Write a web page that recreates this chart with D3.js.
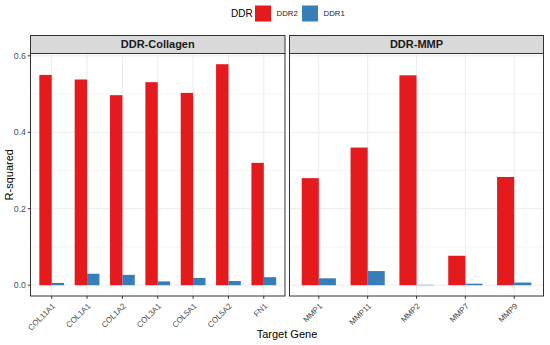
<!DOCTYPE html>
<html>
<head>
<meta charset="utf-8">
<script src="https://cdn.jsdelivr.net/npm/d3@7"></script>
<style>
  body { margin: 0; background: #fff; }
  text { font-family: "Liberation Sans", Arial, sans-serif; }
</style>
</head>
<body>
<div id="chart"></div>
<script>
// data
var collagenGenes = ["COL11A1", "COL1A1", "COL1A2", "COL3A1", "COL5A1", "COL5A2", "FN1"];
var collagenDDR2 = [0.550, 0.538, 0.497, 0.531, 0.503, 0.578, 0.320];
var collagenDDR1 = [0.006, 0.030, 0.027, 0.010, 0.019, 0.011, 0.021];

var mmpGenes = ["MMP1", "MMP11", "MMP2", "MMP7", "MMP9"];
var mmpDDR2 = [0.280, 0.360, 0.549, 0.077, 0.283];
var mmpDDR1 = [0.018, 0.037, 0.001, 0.004, 0.007];

var seriesNames = ["DDR2", "DDR1"];
var seriesColors = ["#E41A1C", "#377EB8"];
var yTicks = [0, 0.2, 0.4, 0.6];
var yMinor = [0.1, 0.3, 0.5];

var width = 550, height = 345;
var svg = d3.select("#chart").append("svg")
    .attr("width", width)
    .attr("height", height);

var panelTop = 53.5, panelBottom = 296, stripTop = 35.5;
var y = d3.scaleLinear().domain([0, 0.6]).range([285.2, 55.8]);

var panels = [
  { title: "DDR-Collagen", genes: collagenGenes, vals: [collagenDDR2, collagenDDR1], x0: 30.5, x1: 285 },
  { title: "DDR-MMP", genes: mmpGenes, vals: [mmpDDR2, mmpDDR1], x0: 289.5, x1: 543.5 }
];

var color = d3.scaleOrdinal().domain(seriesNames).range(seriesColors);

panels.forEach(function (p, pi) {
  var n = p.genes.length;
  // ggplot-like discrete expansion of 0.6 on each side
  var unit = (p.x1 - p.x0) / (n - 1 + 1.2);
  var x = d3.scalePoint().domain(p.genes)
      .range([p.x0 + 0.6 * unit, p.x1 - 0.6 * unit]);
  var sub = d3.scaleBand().domain(seriesNames).range([-0.35 * unit, 0.35 * unit]);

  var g = svg.append("g");

  // panel background + grid
  g.append("rect")
    .attr("x", p.x0).attr("y", panelTop)
    .attr("width", p.x1 - p.x0).attr("height", panelBottom - panelTop)
    .attr("fill", "#fff");

  g.selectAll(".minor").data(yMinor).enter().append("line")
    .attr("x1", p.x0).attr("x2", p.x1)
    .attr("y1", d => y(d)).attr("y2", d => y(d))
    .attr("stroke", "#EBEBEB").attr("stroke-width", 0.5);
  g.selectAll(".major").data(yTicks).enter().append("line")
    .attr("x1", p.x0).attr("x2", p.x1)
    .attr("y1", d => y(d)).attr("y2", d => y(d))
    .attr("stroke", "#EBEBEB").attr("stroke-width", 1);
  g.selectAll(".vgrid").data(p.genes).enter().append("line")
    .attr("x1", d => x(d)).attr("x2", d => x(d))
    .attr("y1", panelTop).attr("y2", panelBottom)
    .attr("stroke", "#EBEBEB").attr("stroke-width", 1);

  // bars
  seriesNames.forEach(function (s, si) {
    g.selectAll(".bar" + si).data(p.genes).enter().append("rect")
      .attr("x", d => x(d) + sub(s))
      .attr("width", sub.bandwidth())
      .attr("y", (d, i) => y(p.vals[si][i]))
      .attr("height", (d, i) => y(0) - y(p.vals[si][i]))
      .attr("fill", color(s));
  });

  // panel border
  g.append("rect")
    .attr("x", p.x0).attr("y", panelTop)
    .attr("width", p.x1 - p.x0).attr("height", panelBottom - panelTop)
    .attr("fill", "none").attr("stroke", "#333").attr("stroke-width", 1);

  // strip
  g.append("rect")
    .attr("x", p.x0).attr("y", stripTop)
    .attr("width", p.x1 - p.x0).attr("height", panelTop - stripTop)
    .attr("fill", "#D9D9D9").attr("stroke", "#333").attr("stroke-width", 1);
  g.append("text")
    .attr("x", (p.x0 + p.x1) / 2).attr("y", (stripTop + panelTop) / 2)
    .attr("dy", "0.36em")
    .attr("text-anchor", "middle")
    .attr("font-size", 11).attr("font-weight", "bold")
    .attr("fill", "#1A1A1A")
    .text(p.title);

  // x ticks and labels
  g.selectAll(".xtick").data(p.genes).enter().append("line")
    .attr("x1", d => x(d)).attr("x2", d => x(d))
    .attr("y1", panelBottom).attr("y2", panelBottom + 2.75)
    .attr("stroke", "#333");
  g.selectAll(".xlab").data(p.genes).enter().append("text")
    .attr("transform", d => "translate(" + (x(d) + 2) + "," + (panelBottom + 8.5) + ") rotate(-45)")
    .attr("text-anchor", "end")
    .attr("dy", "0.35em")
    .attr("font-size", 8)
    .attr("fill", "#4D4D4D")
    .text(d => d);

  // y axis on first panel only
  if (pi === 0) {
    g.selectAll(".ytick").data(yTicks).enter().append("line")
      .attr("x1", p.x0 - 2.75).attr("x2", p.x0)
      .attr("y1", d => y(d)).attr("y2", d => y(d))
      .attr("stroke", "#333");
    g.selectAll(".ylab").data(yTicks).enter().append("text")
      .attr("x", p.x0 - 4.5).attr("y", d => y(d))
      .attr("dy", "0.35em")
      .attr("text-anchor", "end")
      .attr("font-size", 8.8)
      .attr("fill", "#4D4D4D")
      .text(d => d3.format(".1f")(d));
  }
});

// axis titles
svg.append("text")
  .attr("x", (30.5 + 543.5) / 2).attr("y", 338)
  .attr("text-anchor", "middle")
  .attr("font-size", 11).attr("fill", "#000")
  .text("Target Gene");
svg.append("text")
  .attr("transform", "translate(13," + (panelTop + panelBottom) / 2 + ") rotate(-90)")
  .attr("text-anchor", "middle")
  .attr("font-size", 11).attr("fill", "#000")
  .text("R-squared");

// legend
var legend = svg.append("g");
legend.append("text")
  .attr("x", 231).attr("y", 13.5).attr("dy", "0.35em")
  .attr("font-size", 10).attr("fill", "#000")
  .text("DDR");
var keyX = [255, 302];
seriesNames.forEach(function (s, i) {
  legend.append("rect")
    .attr("x", keyX[i]).attr("y", 5.5)
    .attr("width", 16).attr("height", 16)
    .attr("fill", color(s));
  legend.append("text")
    .attr("x", keyX[i] + 21.5).attr("y", 13.5).attr("dy", "0.35em")
    .attr("font-size", 7.8).attr("fill", "#1A1A1A")
    .text(s);
});
</script>
</body>
</html>
